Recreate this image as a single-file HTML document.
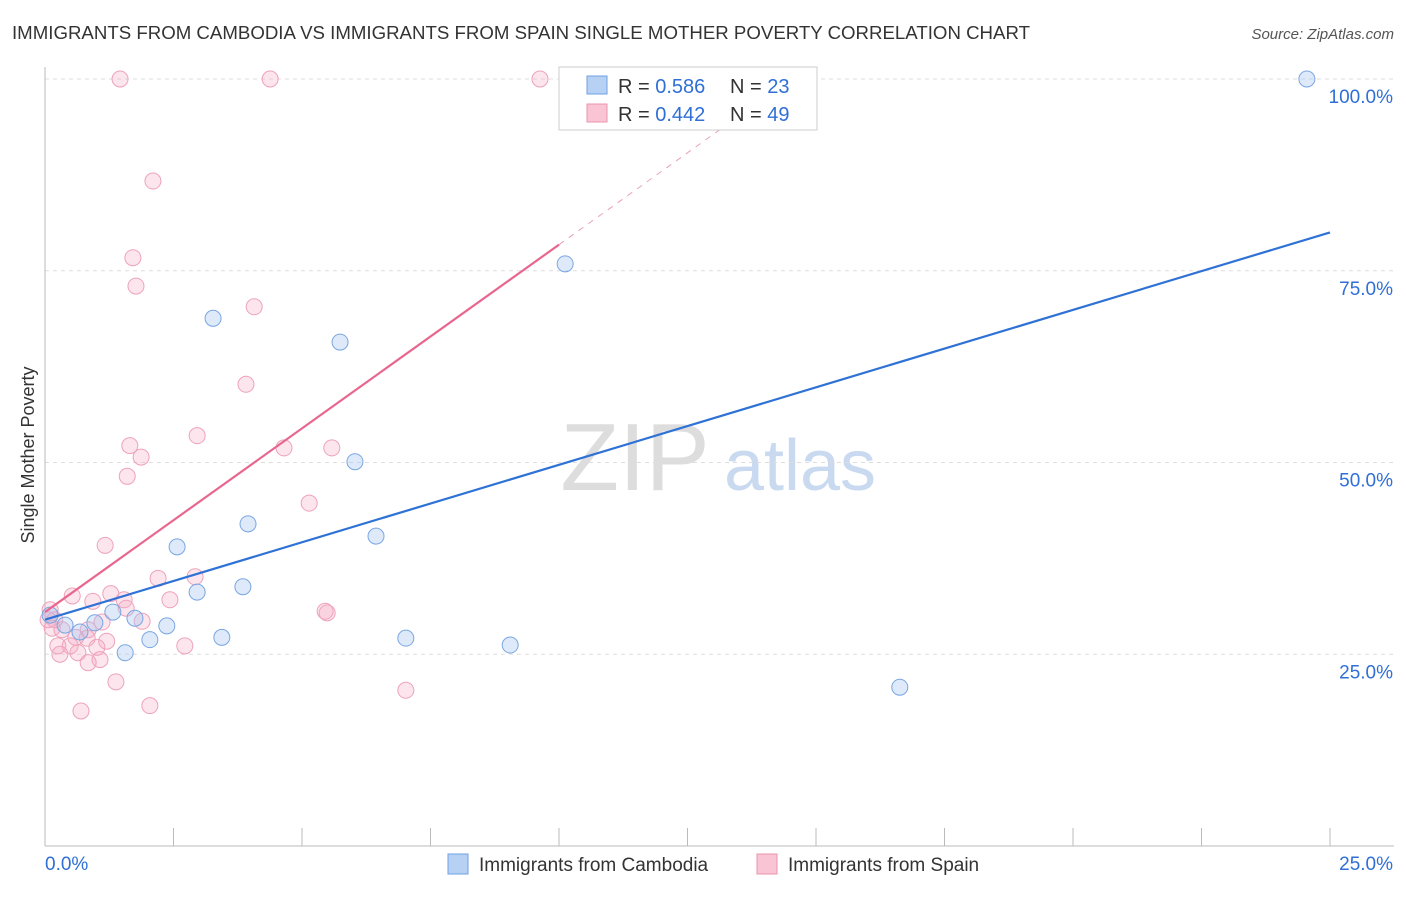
<!DOCTYPE html>
<html><head><meta charset="utf-8"><style>
body{margin:0;background:#fff;font-family:"Liberation Sans",sans-serif}
svg text{font-family:"Liberation Sans",sans-serif}
</style></head><body>
<svg id="c" width="1406" height="892">
<text x="12" y="39" font-size="18" fill="#333" textLength="1018" lengthAdjust="spacingAndGlyphs">IMMIGRANTS FROM CAMBODIA VS IMMIGRANTS FROM SPAIN SINGLE MOTHER POVERTY CORRELATION CHART</text>
<text x="1394" y="39" font-size="15" fill="#555" font-style="italic" text-anchor="end">Source: ZipAtlas.com</text>
<text x="34" y="455" font-size="18" fill="#333" transform="rotate(-90 34 455)" text-anchor="middle">Single Mother Poverty</text>
<g><text x="635" y="490" font-size="96" fill="#ddd" font-family="Liberation Serif" text-anchor="middle">ZIP</text><text x="800" y="490" font-size="72" fill="#c9daf0" text-anchor="middle">atlas</text></g>
<g id="grid"></g><g id="axes"></g><g id="pts"></g><g id="lines"></g>
<g>
<rect x="559" y="67" width="258" height="63" fill="#fff" stroke="#ccc"/>
<rect x="587" y="76" width="20" height="18" fill="#b7d1f5" stroke="#6f9fe0"/>
<rect x="587" y="104" width="20" height="18" fill="#f9c4d3" stroke="#ec93ad"/>
<text x="618" y="93" font-size="20" fill="#333">R = <tspan fill="#2f6fd6">0.586</tspan></text>
<text x="730" y="93" font-size="20" fill="#333">N = <tspan fill="#2f6fd6">23</tspan></text>
<text x="618" y="121" font-size="20" fill="#333">R = <tspan fill="#2f6fd6">0.442</tspan></text>
<text x="730" y="121" font-size="20" fill="#333">N = <tspan fill="#2f6fd6">49</tspan></text>
</g>
<g>
<rect x="448" y="854" width="20" height="20" fill="#b7d1f5" stroke="#6f9fe0"/>
<text x="479" y="871" font-size="19" fill="#333">Immigrants from Cambodia</text>
<rect x="757" y="854" width="20" height="20" fill="#f9c4d3" stroke="#ec93ad"/>
<text x="788" y="871" font-size="19" fill="#333">Immigrants from Spain</text>
</g>
</svg>
<script>
const blueX=[0.10,0.39,0.68,0.97,1.32,1.56,1.75,2.04,2.37,2.57,2.96,3.27,3.44,3.85,3.95,5.74,6.03,6.44,7.02,9.05,10.12,16.63,24.55];
const blueY=[30.1,28.8,27.9,29.1,30.5,25.2,29.7,26.9,28.7,39.0,33.1,68.8,27.2,33.8,42.0,65.7,50.1,40.4,27.1,26.2,75.9,20.7,100];
const pinkX=[1.46,4.38,9.63,2.10,1.71,1.77,4.07,3.91,2.96,1.65,1.87,4.65,5.58,1.60,5.14,1.17,2.20,2.92,0.53,1.28,0.93,1.54,2.43,1.58,5.45,5.49,0.10,0.19,1.89,1.11,0.33,0.84,0.60,0.82,1.20,0.25,0.49,1.01,2.72,0.29,0.64,1.07,0.84,1.38,7.02,2.04,0.70,0.06,0.14];
const pinkY=[100,100,100,86.7,76.7,73.0,70.3,60.2,53.5,52.2,50.7,51.9,51.9,48.2,44.7,39.2,34.9,35.1,32.6,32.9,31.9,32.1,32.1,31.0,30.6,30.4,30.8,29.5,29.3,29.2,28.2,28.2,27.2,27.1,26.7,26.1,26.1,25.9,26.1,25.0,25.2,24.3,23.9,21.4,20.3,18.3,17.6,29.5,28.4];
const yTicks=[25,50,75,100];
const blueLine=[29.5,80.0];
const pinkLine=[30.5,78.4];
const X=v=>45+v/25*1285, Y=v=>846-v*7.67;
const NS="http://www.w3.org/2000/svg";
function mk(p,t,a){const e=document.createElementNS(NS,t);for(const k in a)e.setAttribute(k,a[k]);document.getElementById(p).appendChild(e);return e;}
yTicks.forEach(t=>{
 const l=mk('grid','line',{x1:45,x2:1394,y1:Y(t),y2:Y(t),stroke:'#ddd','stroke-dasharray':'4,4'});
 
 
 const tx=mk('grid','text',{x:1393,y:Y(t)+24,'font-size':19,fill:'#2f6fd6','text-anchor':'end'});tx.textContent=t.toFixed(1)+'%';
 
 
});
const ax=mk('axes','line',{x1:45,x2:1394,y1:846,y2:846,stroke:'#bbb'});


const ay=mk('axes','line',{x1:45,x2:45,y1:67,y2:846,stroke:'#bbb'});


for(let i=1;i<=10;i++){const t=mk('axes','line',{x1:X(i*2.5),x2:X(i*2.5),y1:828,y2:846,stroke:'#bbb'});
 
 }
[[0,'0.0%',45,'start'],[25,'25.0%',1393,'end']].forEach(d=>{const t=mk('axes','text',{x:d[2],y:870,'font-size':19,fill:'#2f6fd6','text-anchor':d[3]});t.textContent=d[1];
 
 });
pinkX.forEach((x,i)=>{const c=mk('pts','circle',{cx:X(x),cy:Y(pinkY[i]),r:8,fill:'rgba(246,170,194,0.3)',stroke:'#eea3ba','stroke-width':1});
 
 });
blueX.forEach((x,i)=>{const c=mk('pts','circle',{cx:X(x),cy:Y(blueY[i]),r:8,fill:'rgba(160,195,240,0.35)',stroke:'#7aa6e2','stroke-width':1});
 
 });
const bl=mk('lines','line',{x1:X(0),y1:Y(blueLine[0]),x2:X(25),y2:Y(blueLine[1]),stroke:'#2f72d6','stroke-width':2.2});


const slope=(pinkLine[1]-pinkLine[0])/10;
const pl=mk('lines','line',{x1:X(0),y1:Y(pinkLine[0]),x2:X(10),y2:Y(pinkLine[1]),stroke:'#e8678f','stroke-width':2.2});


const pd=mk('lines','line',{x1:X(10),y1:Y(pinkLine[1]),x2:X(14),y2:Y(pinkLine[0]+slope*14),stroke:'#eaa0b7','stroke-width':1,'stroke-dasharray':'6,6'});


</script>
</body></html>
